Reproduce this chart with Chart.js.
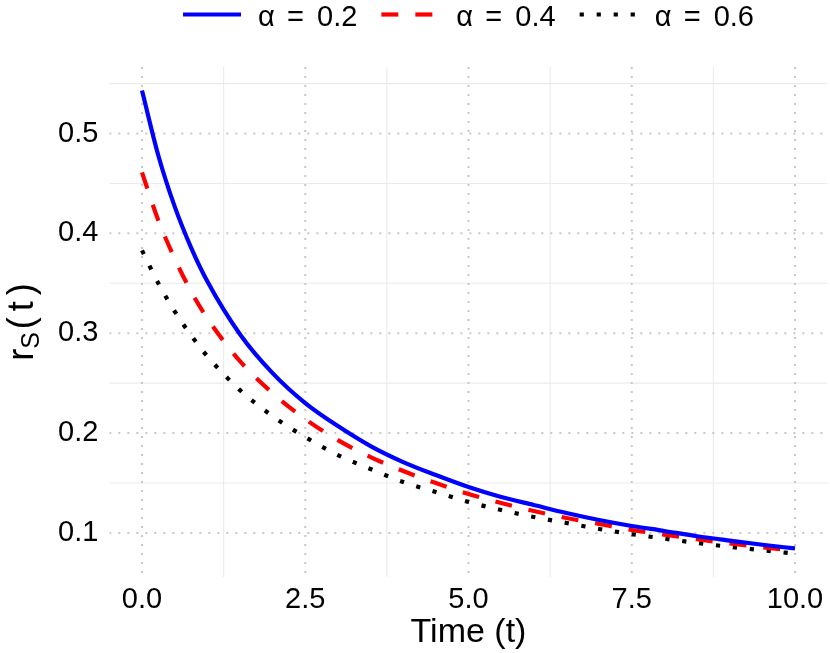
<!DOCTYPE html>
<html><head><meta charset="utf-8">
<script src="https://cdn.jsdelivr.net/npm/chart.js@4/dist/chart.umd.min.js"></script>
<style>html,body{margin:0;padding:0;background:#fff}#wrap{width:830px;height:653px}</style>
</head><body><div id="wrap"><canvas id="c" width="830" height="653"></canvas></div>
<script>
const timeValues = [0,0.25,0.5,0.75,1,1.5,2,2.5,3,3.5,4,4.5,5,5.5,6,6.5,7,7.5,8,8.5,9,9.5,10];
const alpha02 = [0.543,0.478,0.427,0.386,0.352,0.299,0.260,0.230,0.207,0.187,0.171,0.158,0.146,0.136,0.128,0.120,0.113,0.107,0.102,0.0967,0.0923,0.0882,0.0845];
const alpha04 = [0.461,0.413,0.375,0.342,0.315,0.272,0.240,0.214,0.193,0.176,0.162,0.150,0.139,0.130,0.122,0.115,0.109,0.103,0.0983,0.0937,0.0895,0.0857,0.0822];
const alpha06 = [0.383,0.350,0.322,0.298,0.277,0.243,0.217,0.196,0.178,0.164,0.151,0.141,0.131,0.123,0.116,0.110,0.104,0.0989,0.0943,0.0900,0.0861,0.0826,0.0793];
const seriesLabels = ['α = 0.2','α = 0.4','α = 0.6'];
const xTickValues = [0,2.5,5,7.5,10];
const xMinorValues = [1.25,3.75,6.25,8.75];
const yTickValues = [0.1,0.2,0.3,0.4,0.5];
const yMinorValues = [0.15,0.25,0.35,0.45,0.55];

const FONT = '"Liberation Sans", Arial, sans-serif';
const LW = 4.2;

function pts(arr){ return timeValues.map((t,i)=>({x:t,y:arr[i]})); }

const gridPlugin = {
  id:'gridPlugin',
  beforeDatasetsDraw(chart){
    const {ctx, chartArea:a, scales:{x,y}} = chart;
    ctx.save();
    ctx.beginPath(); ctx.rect(a.left,a.top,a.right-a.left,a.bottom-a.top); ctx.clip();
    ctx.strokeStyle = '#ebebeb'; ctx.lineWidth = 1.1; ctx.setLineDash([]);
    xMinorValues.forEach(v=>{const p=x.getPixelForValue(v); ctx.beginPath(); ctx.moveTo(p,a.top); ctx.lineTo(p,a.bottom); ctx.stroke();});
    yMinorValues.forEach(v=>{const p=y.getPixelForValue(v); ctx.beginPath(); ctx.moveTo(a.left,p); ctx.lineTo(a.right,p); ctx.stroke();});
    ctx.strokeStyle = '#c8c8c8'; ctx.lineWidth = 2; ctx.setLineDash([2,7]);
    xTickValues.forEach(v=>{const p=x.getPixelForValue(v); ctx.beginPath(); ctx.moveTo(p,a.top); ctx.lineTo(p,a.bottom); ctx.stroke();});
    yTickValues.forEach(v=>{const p=y.getPixelForValue(v); ctx.beginPath(); ctx.moveTo(a.left,p); ctx.lineTo(a.right,p); ctx.stroke();});
    ctx.restore();
  }
};

const decorPlugin = {
  id:'decorPlugin',
  afterDraw(chart){
    const {ctx, chartArea:a} = chart;
    ctx.save();
    // legend (math-style spacing around "=")
    ctx.font = '29px ' + FONT;
    const keyW = 58, gapKT = 17, gapItem = 24;
    const partOff = [0, 29, 59];
    const widths = seriesLabels.map(s=>{const p=s.split(' '); return partOff[2] + ctx.measureText(p[2]).width;});
    let total = 0;
    widths.forEach((w,i)=>{ total += keyW + gapKT + w + (i<widths.length-1?gapItem:0); });
    let cx = (a.left + a.right)/2 - total/2;
    chart.data.datasets.forEach((ds,i)=>{
      ctx.strokeStyle = ds.borderColor; ctx.lineWidth = ds.borderWidth;
      ctx.lineCap = 'butt'; ctx.setLineDash(ds.borderDash || []);
      ctx.beginPath(); ctx.moveTo(cx, 14.5); ctx.lineTo(cx+keyW, 14.5); ctx.stroke();
      ctx.setLineDash([]);
      ctx.fillStyle = '#000'; ctx.textBaseline = 'alphabetic'; ctx.textAlign = 'left';
      const parts = seriesLabels[i].split(' ');
      parts.forEach((p,j)=>ctx.fillText(p, cx + keyW + gapKT + partOff[j], 26));
      cx += keyW + gapKT + widths[i] + gapItem;
    });
    // y title r_S(t)
    const big = '36px ' + FONT, small = '25px ' + FONT;
    const pieces = [
      {t:'r', f:big, dy:0, gap:0},
      {t:'S', f:small, dy:6, gap:0},
      {t:'(', f:big, dy:0, gap:3},
      {t:'t', f:big, dy:0, gap:6},
      {t:')', f:big, dy:0, gap:6}
    ];
    let tot = 0;
    pieces.forEach(p=>{ctx.font=p.f; p.w=ctx.measureText(p.t).width; tot += p.gap + p.w;});
    ctx.translate(33, (a.top + a.bottom)/2);
    ctx.rotate(-Math.PI/2);
    ctx.fillStyle = '#000'; ctx.textAlign = 'left'; ctx.textBaseline = 'alphabetic';
    let lx = -tot/2;
    pieces.forEach(p=>{lx += p.gap; ctx.font = p.f; ctx.fillText(p.t, lx, p.dy); lx += p.w;});
    ctx.restore();
  }
};

new Chart(document.getElementById('c'), {
  type:'line',
  data:{
    datasets:[
      {label:seriesLabels[0], data:pts(alpha02), borderColor:'#0000ff', borderWidth:LW, borderDash:[], pointRadius:0, fill:false, cubicInterpolationMode:'monotone'},
      {label:seriesLabels[1], data:pts(alpha04), borderColor:'#ff0000', borderWidth:LW, borderDash:[17,17], pointRadius:0, fill:false, cubicInterpolationMode:'monotone'},
      {label:seriesLabels[2], data:pts(alpha06), borderColor:'#000000', borderWidth:LW, borderDash:[LW,17-LW], pointRadius:0, fill:false, cubicInterpolationMode:'monotone'}
    ]
  },
  options:{
    responsive:false, animation:false, devicePixelRatio:1,
    layout:{padding:{top:67, right:2.35, left:0, bottom:0}},
    plugins:{legend:{display:false}, tooltip:{enabled:false}},
    elements:{line:{borderCapStyle:'butt', borderJoinStyle:'round'}},
    scales:{
      x:{type:'linear', min:-0.5, max:10.5,
        afterBuildTicks:s=>{s.ticks = xTickValues.map(v=>({value:v}));},
        afterFit:s=>{s.height = 76;},
        grid:{display:false, drawTicks:false}, border:{display:false},
        ticks:{padding:6, color:'#000', font:{size:29, family:FONT}, callback:v=>Number(v).toFixed(1), maxRotation:0, autoSkip:false},
        title:{display:true, text:'Time (t)', color:'#000', font:{size:34, family:FONT}, padding:{top:0,bottom:0}}
      },
      y:{type:'linear', min:0.0559, max:0.5666,
        afterBuildTicks:s=>{s.ticks = yTickValues.map(v=>({value:v}));},
        afterFit:s=>{s.width = 109.35;},
        grid:{display:false, drawTicks:false}, border:{display:false},
        ticks:{padding:11, color:'#000', font:{size:29, family:FONT}, callback:v=>Number(v).toFixed(1), autoSkip:false}
      }
    }
  },
  plugins:[gridPlugin, decorPlugin]
});
</script>
</body></html>
